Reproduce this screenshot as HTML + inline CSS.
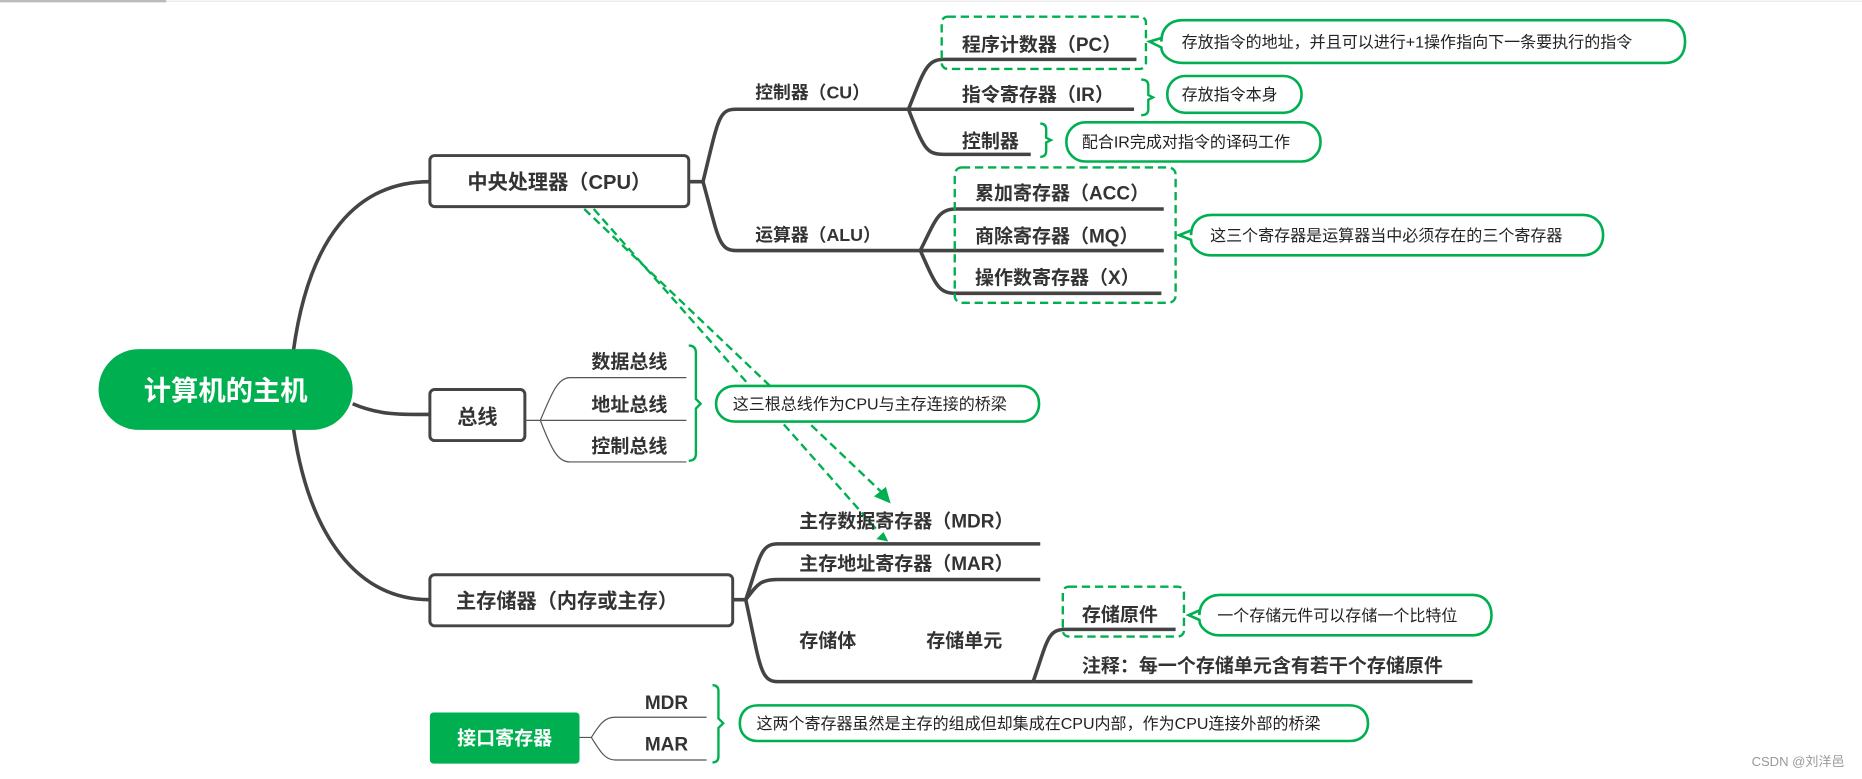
<!DOCTYPE html>
<html><head><meta charset="utf-8"><style>
html,body{margin:0;padding:0;background:#fff;overflow:hidden}
svg{display:block}
text{font-family:"Liberation Sans","Noto Sans CJK SC",sans-serif;fill:#333}
.b{font-weight:bold;font-size:16px}
.c{font-size:13.5px;fill:#222}
.ln{stroke:#444;stroke-width:3;fill:none}
.tl{stroke:#555;stroke-width:1;fill:none}
.g{stroke:#00b050;stroke-width:2.2;fill:#fff}
.gd{stroke:#00b050;stroke-width:2;fill:none;stroke-dasharray:7 4}
.br{stroke:#00b050;stroke-width:2;fill:none}
</style></head><body>
<svg width="1862" height="779" viewBox="0 0 1568 656" preserveAspectRatio="none">
<line x1="0" y1="1" x2="1568" y2="1" stroke="#e6e6e6" stroke-width="1"/>
<line x1="0" y1="1" x2="140" y2="1" stroke="#bbb" stroke-width="2"/>

<!-- root connectors -->
<path class="ln" stroke-width="2.5" d="M247 296 C 260 200, 300 153, 362 153"/>
<path class="ln" d="M297 340 C 320 350, 340 349, 362 349"/>
<path class="ln" stroke-width="2.5" d="M247 360 C 260 450, 300 505, 362 505"/>

<rect x="83" y="294" width="214" height="68" rx="34" fill="#00b050"/>
<text x="190" y="337" text-anchor="middle" style="font-size:23px;font-weight:bold;fill:#fff">计算机的主机</text>

<!-- CPU -->
<rect x="362" y="131" width="218" height="43" rx="4" fill="#fff" stroke="#444" stroke-width="2.5"/>
<text x="471" y="159" text-anchor="middle" class="b" style="font-size:17px">中央处理器（CPU）</text>
<path class="ln" d="M580 153 L592 153 C 605 100, 605 92, 620 92 L765 92"/>
<path class="ln" d="M592 153 C 605 200, 605 211, 620 211 L980 211"/>
<text x="636" y="83" class="b" style="font-size:15px">控制器（CU）</text>
<text x="636" y="203" class="b" style="font-size:15px">运算器（ALU）</text>

<!-- CU children -->
<path class="ln" d="M765 92 C 778 60, 780 50, 795 50 L957 50"/>
<path class="ln" d="M765 92 L955 92"/>
<path class="ln" d="M765 92 C 778 125, 780 130, 795 130 L868 130"/>
<rect x="793" y="14" width="172" height="44" rx="5" class="gd"/>
<text x="810" y="43" class="b">程序计数器（PC）</text>
<text x="810" y="85" class="b">指令寄存器（IR）</text>
<text x="810" y="124" class="b">控制器</text>

<path class="g" d="M978 35 C 978 24 985 17 996 17 L1402 17 C 1413 17 1419 24 1419 35 C 1419 46 1413 53 1402 53 L996 53 C 985 53 978 46 978 40 L968 35 L978 32 Z"/>
<text x="995" y="40" class="c">存放指令的地址，并且可以进行+1操作指向下一条要执行的指令</text>
<path class="br" d="M961 67 Q967 67 967 72 L967 80 L971 82 L967 84 L967 92 Q967 97 961 97"/>
<rect x="983" y="64" width="113" height="31" rx="15" class="g"/>
<text x="995" y="84" class="c">存放指令本身</text>
<path class="br" d="M876 104 Q881 104 881 109 L881 116 L885 118 L881 120 L881 127 Q881 132 876 132"/>
<rect x="898" y="103" width="214" height="33" rx="16" class="g"/>
<text x="911" y="124" class="c">配合IR完成对指令的译码工作</text>

<!-- ALU children -->
<path class="ln" d="M775 211 C 788 185, 790 176, 805 176 L980 176"/>
<path class="ln" d="M775 211 C 788 240, 790 247, 805 247 L978 247"/>
<rect x="804" y="141" width="186" height="114" rx="6" class="gd"/>
<text x="821" y="168" class="b">累加寄存器（ACC）</text>
<text x="821" y="204" class="b">商除寄存器（MQ）</text>
<text x="821" y="239" class="b">操作数寄存器（X）</text>
<path class="g" d="M1003 198 C 1003 188 1010 181 1020 181 L1333 181 C 1343 181 1350 188 1350 198 C 1350 208 1343 215 1333 215 L1020 215 C 1010 215 1003 208 1003 202 L993 198 L1003 194 Z"/>
<text x="1019" y="203" class="c">这三个寄存器是运算器当中必须存在的三个寄存器</text>

<!-- bus -->
<rect x="362" y="328" width="80" height="43" rx="4" fill="#fff" stroke="#444" stroke-width="2.5"/>
<text x="402" y="357" text-anchor="middle" class="b" style="font-size:17px">总线</text>
<path class="tl" d="M442 354 L455 354 C 465 330, 470 318, 480 318 L578 318"/>
<path class="tl" d="M455 354 L578 354"/>
<path class="tl" d="M455 354 C 465 380, 470 389, 480 389 L578 389"/>
<text x="498" y="310" class="b">数据总线</text>
<text x="498" y="346" class="b">地址总线</text>
<text x="498" y="381" class="b">控制总线</text>
<path class="br" d="M580 291 Q586 291 586 297 L586 336 L590 340 L586 344 L586 382 Q586 388 580 388"/>

<!-- dashed arrows -->
<line x1="492" y1="176" x2="744" y2="416" class="gd" stroke-width="2.2"/>
<line x1="500" y1="176" x2="740" y2="448" class="gd" stroke-width="2.2"/>
<polygon points="750,424 736,418 746,410" fill="#00b050"/>
<polygon points="748,456 738,454 744,448" fill="#00b050"/>

<path class="g" d="M603 340 C 603 331 610 325 619 325 L860 325 C 869 325 875 331 875 340 C 875 349 869 355 860 355 L619 355 C 610 355 603 349 603 340 Z"/>
<text x="617" y="345" class="c">这三根总线作为CPU与主存连接的桥梁</text>

<!-- main memory -->
<rect x="362" y="484" width="255" height="43" rx="4" fill="#fff" stroke="#444" stroke-width="2.5"/>
<text x="384" y="512" class="b" style="font-size:17px">主存储器（内存或主存）</text>
<path class="ln" d="M617 505 L628 505 C 640 470, 640 458, 655 458 L876 458"/>
<path class="ln" d="M628 505 C 638 492, 640 488, 655 488 L876 488"/>
<path class="ln" d="M628 505 C 640 560, 640 574, 655 574 L870 574"/>
<text x="673" y="444" class="b">主存数据寄存器（MDR）</text>
<text x="673" y="480" class="b">主存地址寄存器（MAR）</text>
<text x="673" y="545" class="b">存储体</text>
<text x="780" y="545" class="b">存储单元</text>
<path class="ln" d="M870 574 C 882 540, 882 530, 897 530 L990 530"/>
<path class="ln" d="M870 574 L885 574 L1240 574" stroke-width="2.5"/>
<rect x="895" y="494" width="102" height="42" rx="5" class="gd"/>
<text x="911" y="523" class="b">存储原件</text>
<text x="911" y="566" class="b">注释：每一个存储单元含有若干个存储原件</text>
<path class="g" d="M1010 518 C 1010 508 1017 501 1027 501 L1240 501 C 1250 501 1256 508 1256 518 C 1256 528 1250 535 1240 535 L1027 535 C 1017 535 1010 528 1010 522 L1001 518 L1010 514 Z"/>
<text x="1025" y="523" class="c">一个存储元件可以存储一个比特位</text>

<!-- interface regs -->
<rect x="362" y="600" width="126" height="43" rx="3" fill="#00b050"/>
<text x="425" y="627" text-anchor="middle" style="font-size:16px;font-weight:bold;fill:#fff">接口寄存器</text>
<path class="tl" d="M488 621 L498 621 C 506 608, 510 604, 518 604 L595 604"/>
<path class="tl" d="M498 621 C 506 634, 510 640, 518 640 L595 640"/>
<text x="543" y="597" class="b">MDR</text>
<text x="543" y="632" class="b">MAR</text>
<path class="br" d="M600 577 Q605 577 605 582 L605 605 L609 609 L605 613 L605 637 Q605 642 600 642"/>
<path class="g" d="M623 609 C 623 600 629 594 638 594 L1137 594 C 1146 594 1152 600 1152 609 C 1152 618 1146 624 1137 624 L638 624 C 629 624 623 618 623 609 Z"/>
<text x="637" y="614" class="c">这两个寄存器虽然是主存的组成但却集成在CPU内部，作为CPU连接外部的桥梁</text>

<text x="1475" y="645" style="font-size:11px;fill:#999">CSDN @刘洋邑</text>
</svg>
</body></html>
